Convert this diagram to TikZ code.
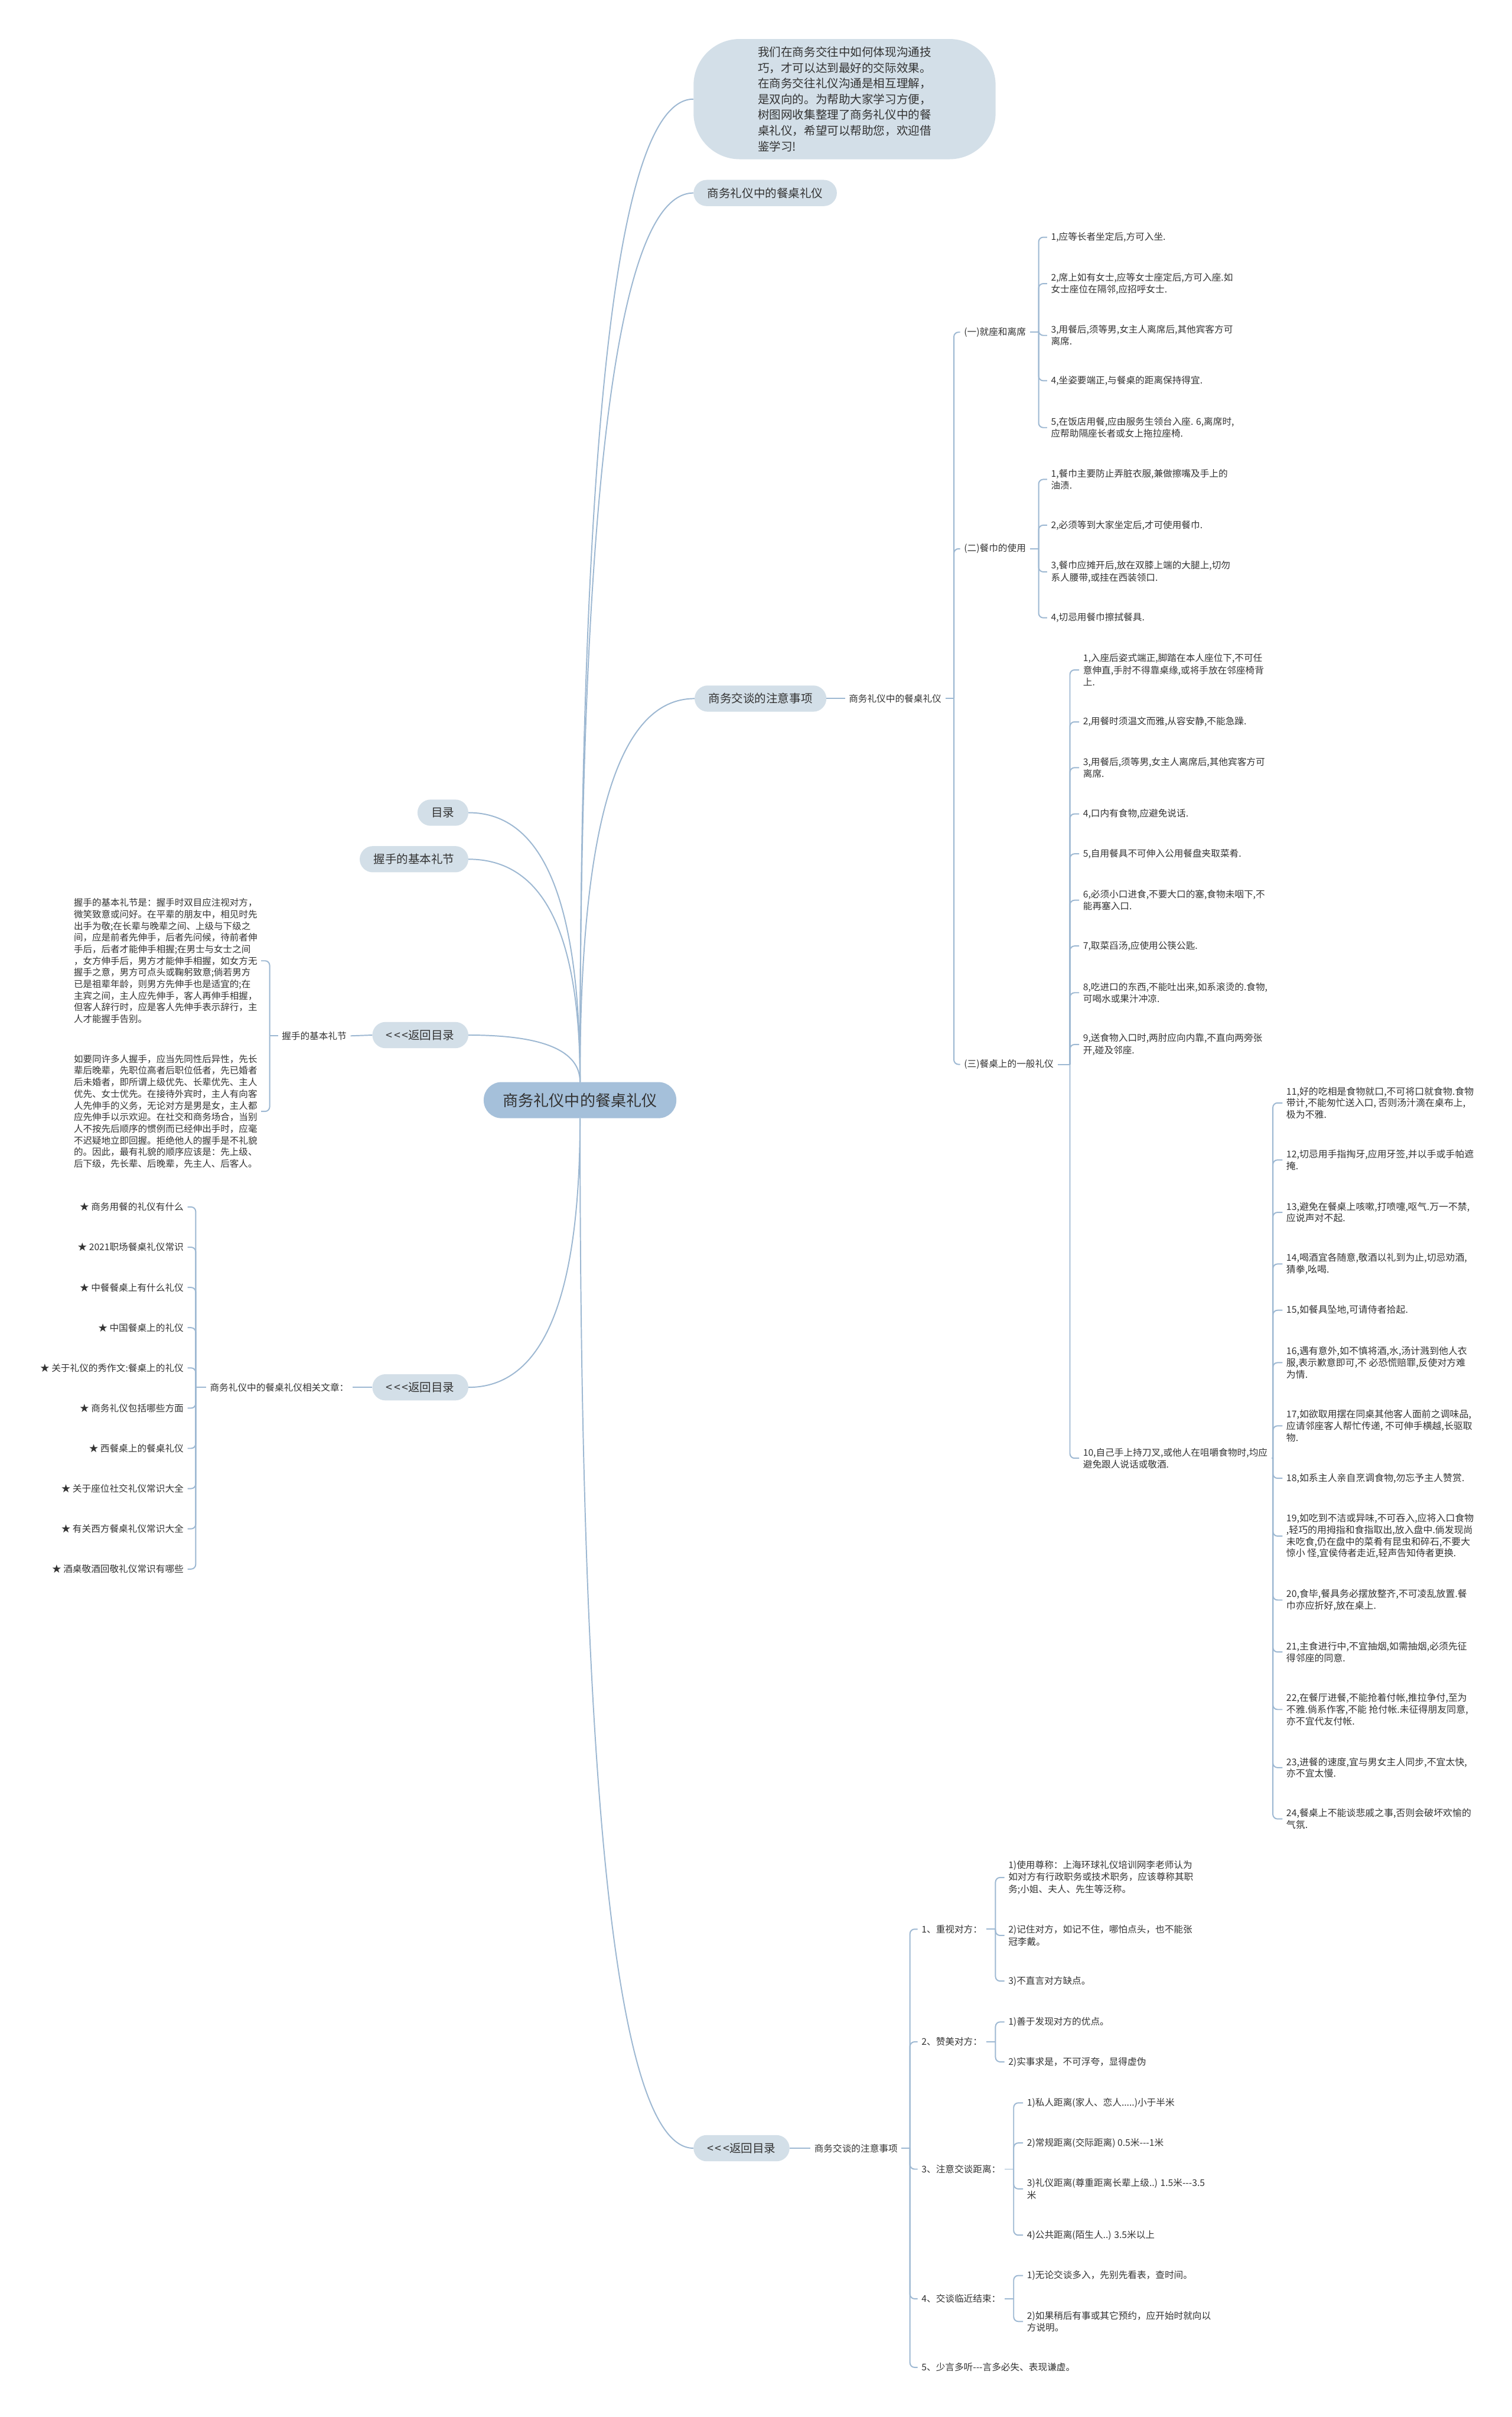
\documentclass[tikz,border=0pt]{standalone}
\usepackage{fontspec}
\usepackage{xcolor}
\usepackage{tikz}
\usetikzlibrary{calc}

\newfontfamily\cjkfont{Noto Sans CJK SC}
\newcommand{\rootfont}{\cjkfont\fontsize{10mm}{12mm}\selectfont}
\newcommand{\topicfont}{\cjkfont\fontsize{7.5mm}{10.2mm}\selectfont}
\newcommand{\leaffont}{\cjkfont\fontsize{6mm}{7.8mm}\selectfont}
\newcommand{\widefont}{\cjkfont\fontsize{6.1mm}{7.6mm}\selectfont}
\newcommand{\parafont}{\cjkfont\fontsize{5.95mm}{7.55mm}\selectfont}
\newcommand{\backtxt}{<\kern0.9mm<\kern0.9mm<返回目录}

\definecolor{linkc}{HTML}{9DB8D2}
\definecolor{topicc}{HTML}{D3DFE8}
\definecolor{rootc}{HTML}{A5C0DA}
\definecolor{inkc}{HTML}{333333}

\tikzset{
  link/.style={draw=linkc, line width=0.75mm},
  hook/.style={link, rounded corners=3mm},
  rootbox/.style={fill=rootc, text=inkc, rounded corners=11.5mm, minimum height=23.4mm, inner xsep=12.5mm, font=\rootfont},
  topic/.style={fill=topicc, text=inkc, rounded corners=8.5mm, minimum height=17mm, inner xsep=9mm, font=\topicfont},
  leaf/.style={text=inkc, inner xsep=2.5mm, inner ysep=1mm, align=left, font=\leaffont},
  wide/.style={leaf, font=\widefont},
  para/.style={leaf, font=\parafont},
}

\begin{document}
\begin{tikzpicture}[x=1mm, y=-1mm]
  \path[use as bounding box, fill=white] (0,0) rectangle (981,1568);

  % centre and first level
  \node[rootbox] (root) at (376.4,713.7) {商务礼仪中的餐桌礼仪};
  \node[topic, anchor=west, align=left, minimum width=196mm, minimum height=78mm, rounded corners=30mm] (intro) at (450,64.3) {我们在商务交往中如何体现沟通技\\巧，才可以达到最好的交际效果。\\在商务交往礼仪沟通是相互理解，\\是双向的。为帮助大家学习方便，\\树图网收集整理了商务礼仪中的餐\\桌礼仪，希望可以帮助您，欢迎借\\鉴学习!};
  \node[topic, anchor=west] (dining) at (450,125.2) {商务礼仪中的餐桌礼仪};
  \node[topic, anchor=west] (talk) at (450.7,453.2) {商务交谈的注意事项};
  \node[topic, anchor=west] (backtalk) at (450,1393.6) {\backtxt};
  \node[topic, anchor=east] (toc) at (304,527.2) {目录};
  \node[topic, anchor=east] (shake) at (304,557.4) {握手的基本礼节};
  \node[topic, anchor=east] (backshake) at (304,671.5) {\backtxt};
  \node[topic, anchor=east] (backlinks) at (304,900) {\backtxt};

  \foreach \s/\n in {north/intro.west, north/dining.west, north/talk.west, north/toc.east, north/shake.east, north/backshake.east, south/backlinks.east, south/backtalk.west} {
    \coordinate (k) at (root.\s |- \n);
    \draw[link] (root.\s) .. controls ($(root.\s)!0.67!(k)$) and ($(\n)!0.67!(k)$) .. (\n);
  }

  % dining etiquette
  \node[leaf, anchor=west] (talkdin) at (548.3,453.2) {商务礼仪中的餐桌礼仪};
  \node[leaf, anchor=west] (seat) at (623.1,215.5) {(一)就座和离席};
  \node[leaf, anchor=west] (napkin) at (623.1,356) {(二)餐巾的使用};
  \node[leaf, anchor=west] (general) at (623.1,690.5) {(三)餐桌上的一般礼仪};
  \draw[link] (talk.east) -- (talkdin.west);
  \coordinate (jtalk) at (619,453.2);
  \draw[link] (talkdin.east) -- (jtalk);
  \foreach \n in {seat,napkin,general}
    \draw[hook] (jtalk) |- (\n.west);

  \node[leaf, anchor=west] (seat1) at (679.5,153.9) {1,应等长者坐定后,方可入坐.};
  \node[leaf, anchor=west] (seat2) at (679.5,184) {2,席上如有女士,应等女士座定后,方可入座.如\\女士座位在隔邻,应招呼女士.};
  \node[leaf, anchor=west] (seat3) at (679.5,217.6) {3,用餐后,须等男,女主人离席后,其他宾客方可\\离席.};
  \node[leaf, anchor=west] (seat4) at (679.5,247) {4,坐姿要端正,与餐桌的距离保持得宜.};
  \node[leaf, anchor=west] (seat5) at (679.5,277.4) {5,在饭店用餐,应由服务生领台入座. 6,离席时,\\应帮助隔座长者或女上拖拉座椅.};
  \coordinate (jseat) at (674,215.5);
  \draw[link] (seat.east) -- (jseat);
  \foreach \i in {1,...,5}
    \draw[hook] (jseat) |- (seat\i.west);

  \node[leaf, anchor=west] (nap1) at (679.5,311) {1,餐巾主要防止弄脏衣服,兼做擦嘴及手上的\\油渍.};
  \node[leaf, anchor=west] (nap2) at (679.5,340.7) {2,必须等到大家坐定后,才可使用餐巾.};
  \node[leaf, anchor=west] (nap3) at (679.5,371) {3,餐巾应摊开后,放在双膝上端的大腿上,切勿\\系人腰带,或挂在西装领口.};
  \node[leaf, anchor=west] (nap4) at (679.5,400.8) {4,切忌用餐巾擦拭餐具.};
  \coordinate (jnap) at (674,356);
  \draw[link] (napkin.east) -- (jnap);
  \foreach \i in {1,...,4}
    \draw[hook] (jnap) |- (nap\i.west);

  \node[leaf, anchor=west] (gen1) at (700.3,434.6) {1,入座后姿式端正,脚踏在本人座位下,不可任\\意伸直,手肘不得靠桌缘,或将手放在邻座椅背\\上.};
  \node[leaf, anchor=west] (gen2) at (700.3,468.3) {2,用餐时须温文而雅,从容安静,不能急躁.};
  \node[leaf, anchor=west] (gen3) at (700.3,498) {3,用餐后,须等男,女主人离席后,其他宾客方可\\离席.};
  \node[leaf, anchor=west] (gen4) at (700.3,528) {4,口内有食物,应避免说话.};
  \node[leaf, anchor=west] (gen5) at (700.3,553.9) {5,自用餐具不可伸入公用餐盘夹取菜肴.};
  \node[leaf, anchor=west] (gen6) at (700.3,584) {6,必须小口进食,不要大口的塞,食物未咽下,不\\能再塞入口.};
  \node[leaf, anchor=west] (gen7) at (700.3,613.7) {7,取菜舀汤,应使用公筷公匙.};
  \node[leaf, anchor=west] (gen8) at (700.3,644) {8,吃进口的东西,不能吐出来,如系滚烫的.食物,\\可喝水或果汁冲凉.};
  \node[leaf, anchor=west] (gen9) at (700.3,677.6) {9,送食物入口时,两肘应向内靠,不直向两旁张\\开,碰及邻座.};
  \node[leaf, anchor=west] (gen10) at (700.3,946) {10,自己手上持刀叉,或他人在咀嚼食物时,均应\\避免跟人说话或敬酒.};
  \coordinate (jgen) at (694.3,690.5);
  \draw[link] (general.east) -- (jgen);
  \foreach \i in {1,...,10}
    \draw[hook] (jgen) |- (gen\i.west);

  \node[wide, anchor=west] (gen11) at (832.2,715.5) {11,好的吃相是食物就口,不可将口就食物.食物\\带计,不能匆忙送入口, 否则汤汁滴在桌布上,\\极为不雅.};
  \node[wide, anchor=west] (gen12) at (832.2,752.5) {12,切忌用手指掏牙,应用牙签,并以手或手帕遮\\掩.};
  \node[wide, anchor=west] (gen13) at (832.2,786.5) {13,避免在餐桌上咳嗽,打喷嚏,呕气.万一不禁,\\应说声对不起.};
  \node[wide, anchor=west] (gen14) at (832.2,820) {14,喝酒宜各随意,敬酒以礼到为止,切忌劝酒,\\猜拳,吆喝.};
  \node[wide, anchor=west] (gen15) at (832.2,850) {15,如餐具坠地,可请侍者拾起.};
  \node[wide, anchor=west] (gen16) at (832.2,884) {16,遇有意外,如不慎将酒,水,汤计溅到他人衣\\服,表示歉意即可,不 必恐慌赔罪,反使对方难\\为情.};
  \node[wide, anchor=west] (gen17) at (832.2,925) {17,如欲取用摆在同桌其他客人面前之调味品,\\应请邻座客人帮忙传递, 不可伸手横越,长驱取\\物.};
  \node[wide, anchor=west] (gen18) at (832.2,959) {18,如系主人亲自烹调食物,勿忘予主人赞赏.};
  \node[wide, anchor=west] (gen19) at (832.2,996.5) {19,如吃到不洁或异味,不可吞入,应将入口食物\\,轻巧的用拇指和食指取出,放入盘中.倘发现尚\\未吃食,仍在盘中的菜肴有昆虫和碎石,不要大\\惊小 怪,宜侯侍者走近,轻声告知侍者更换.};
  \node[wide, anchor=west] (gen20) at (832.2,1038) {20,食毕,餐具务必摆放整齐,不可凌乱放置.餐\\巾亦应折好,放在桌上.};
  \node[wide, anchor=west] (gen21) at (832.2,1071.7) {21,主食进行中,不宜抽烟,如需抽烟,必须先征\\得邻座的同意.};
  \node[wide, anchor=west] (gen22) at (832.2,1109) {22,在餐厅进餐,不能抢着付帐,推拉争付,至为\\不雅.倘系作客,不能 抢付帐.未征得朋友同意,\\亦不宜代友付帐.};
  \node[wide, anchor=west] (gen23) at (832.2,1146.7) {23,进餐的速度,宜与男女主人同步,不宜太快,\\亦不宜太慢.};
  \node[wide, anchor=west] (gen24) at (832.2,1180) {24,餐桌上不能谈悲戚之事,否则会破坏欢愉的\\气氛.};
  \coordinate (jten) at (826,946);
  \draw[link] (gen10.east) -- (jten);
  \foreach \i in {11,...,24}
    \draw[hook] (jten) |- (gen\i.west);

  % handshake
  \node[leaf, anchor=east] (shaketxt) at (227.5,672) {握手的基本礼节};
  \node[para, anchor=east] (hs1) at (169.5,623.3) {握手的基本礼节是：握手时双目应注视对方，\\微笑致意或问好。在平辈的朋友中，相见时先\\出手为敬;在长辈与晚辈之间、上级与下级之\\间，应是前者先伸手，后者先问候，待前者伸\\手后，后者才能伸手相握;在男士与女士之间\\，女方伸手后，男方才能伸手相握，如女方无\\握手之意，男方可点头或鞠躬致意;倘若男方\\已是祖辈年龄，则男方先伸手也是适宜的;在\\主宾之间，主人应先伸手，客人再伸手相握，\\但客人辞行时，应是客人先伸手表示辞行，主\\人才能握手告别。};
  \node[para, anchor=east] (hs2) at (169.5,721) {如要同许多人握手，应当先同性后异性，先长\\辈后晚辈，先职位高者后职位低者，先已婚者\\后未婚者，即所谓上级优先、长辈优先、主人\\优先、女士优先。在接待外宾时，主人有向客\\人先伸手的义务，无论对方是男是女，主人都\\应先伸手以示欢迎。在社交和商务场合，当别\\人不按先后顺序的惯例而已经伸出手时，应毫\\不迟疑地立即回握。拒绝他人的握手是不礼貌\\的。因此，最有礼貌的顺序应该是：先上级、\\后下级，先长辈、后晚辈，先主人、后客人。};
  \draw[link] (backshake.west) -- (shaketxt.east);
  \coordinate (jshake) at (175,672);
  \draw[link] (shaketxt.west) -- (jshake);
  \foreach \i in {1,2}
    \draw[hook] (jshake) |- (hs\i.east);

  % related articles
  \node[leaf, anchor=west] (links) at (133.7,900) {商务礼仪中的餐桌礼仪相关文章：};
  \foreach \t [count=\i] in {商务用餐的礼仪有什么, 2021职场餐桌礼仪常识, 中餐餐桌上有什么礼仪, 中国餐桌上的礼仪, 关于礼仪的秀作文:餐桌上的礼仪, 商务礼仪包括哪些方面, 西餐桌上的餐桌礼仪, 关于座位社交礼仪常识大全, 有关西方餐桌礼仪常识大全, 酒桌敬酒回敬礼仪常识有哪些}
    \node[leaf, anchor=east] (lk\i) at (121.7,{783+(\i-1)*26.1}) {★ \t};
  \draw[link] (backlinks.west) -- (links.east);
  \coordinate (jlinks) at (127,900);
  \draw[link] (links.west) -- (jlinks);
  \foreach \i in {1,...,10}
    \draw[hook] (jlinks) |- (lk\i.east);

  % business talk
  \node[leaf, anchor=west] (tips) at (525.9,1393.6) {商务交谈的注意事项};
  \node[leaf, anchor=west] (tip1) at (595.5,1251.5) {1、重视对方：};
  \node[leaf, anchor=west] (tip2) at (595.5,1324.6) {2、赞美对方：};
  \node[leaf, anchor=west] (tip3) at (595.5,1407.2) {3、注意交谈距离：};
  \node[leaf, anchor=west] (tip4) at (595.5,1491.3) {4、交谈临近结束：};
  \node[leaf, anchor=west] (tip5) at (595.5,1535.8) {5、少言多听---言多必失、表现谦虚。};
  \draw[link] (backtalk.east) -- (tips.west);
  \coordinate (jtips) at (590.5,1393.6);
  \draw[link] (tips.east) -- (jtips);
  \foreach \i in {1,...,5}
    \draw[hook] (jtips) |- (tip\i.west);

  \node[leaf, anchor=west] (tip1a) at (651.8,1218) {1)使用尊称：上海环球礼仪培训网李老师认为\\如对方有行政职务或技术职务，应该尊称其职\\务;小姐、夫人、先生等泛称。};
  \node[leaf, anchor=west] (tip1b) at (651.8,1255.6) {2)记住对方，如记不住，哪怕点头，也不能张\\冠李戴。};
  \node[leaf, anchor=west] (tip1c) at (651.8,1285.2) {3)不直言对方缺点。};
  \node[leaf, anchor=west] (tip2a) at (651.8,1311.7) {1)善于发现对方的优点。};
  \node[leaf, anchor=west] (tip2b) at (651.8,1337.6) {2)实事求是，不可浮夸，显得虚伪};
  \node[leaf, anchor=west] (tip3a) at (663.9,1364.2) {1)私人距离(家人、恋人.....)小于半米};
  \node[leaf, anchor=west] (tip3b) at (663.9,1390.2) {2)常规距离(交际距离) 0.5米---1米};
  \node[leaf, anchor=west] (tip3c) at (663.9,1420) {3)礼仪距离(尊重距离长辈上级..) 1.5米---3.5\\米};
  \node[leaf, anchor=west] (tip3d) at (663.9,1450) {4)公共距离(陌生人..) 3.5米以上};
  \node[leaf, anchor=west] (tip4a) at (663.9,1476.2) {1)无论交谈多入，先别先看表，查时间。};
  \node[leaf, anchor=west] (tip4b) at (663.9,1506) {2)如果稍后有事或其它预约，应开始时就向以\\方说明。};
  \coordinate (jtip1) at (646,1251.5);
  \coordinate (jtip2) at (646,1324.6);
  \coordinate (jtip3) at (657.8,1407.2);
  \coordinate (jtip4) at (657.8,1491.3);
  \foreach \i in {1,...,4}
    \draw[link] (tip\i.east) -- (jtip\i);
  \foreach \c in {a,b,c}
    \draw[hook] (jtip1) |- (tip1\c.west);
  \foreach \c in {a,b}
    \draw[hook] (jtip2) |- (tip2\c.west);
  \foreach \c in {a,b,c,d}
    \draw[hook] (jtip3) |- (tip3\c.west);
  \foreach \c in {a,b}
    \draw[hook] (jtip4) |- (tip4\c.west);
\end{tikzpicture}
\end{document}
